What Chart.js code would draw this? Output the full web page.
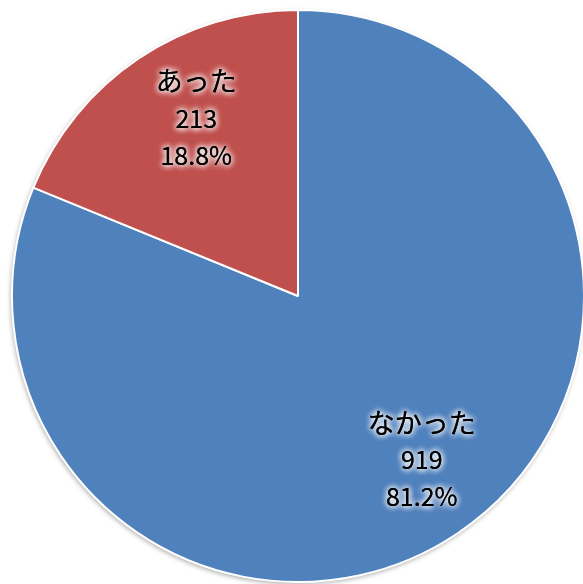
<!DOCTYPE html>
<html>
<head>
<meta charset="utf-8">
<script src="https://cdn.jsdelivr.net/npm/chart.js@4/dist/chart.umd.min.js"></script>
<style>
  html, body { margin: 0; padding: 0; background: #ffffff; overflow: hidden; }
  #wrap { position: relative; width: 600px; height: 584px; }
</style>
</head>
<body>
<div id="wrap"><canvas id="c"></canvas></div>
<script>
const categories = ["なかった", "あった"];
const counts = [919, 213];
const percentLabels = ["81.2%", "18.8%"];
const sliceColors = ["#4F81BD", "#C0504D"];

const labelPlugin = {
  id: 'sliceLabels',
  beforeDatasetsDraw(chart) {
    const arc = chart.getDatasetMeta(0).data[0];
    if (!arc) return;
    const ctx = chart.ctx;
    ctx.save();
    ctx.shadowColor = 'rgba(0,0,0,0.35)';
    ctx.shadowBlur = 5;
    ctx.shadowOffsetX = -1;
    ctx.shadowOffsetY = 2;
    ctx.fillStyle = '#ffffff';
    ctx.beginPath();
    ctx.arc(arc.x, arc.y, arc.outerRadius, 0, Math.PI * 2);
    ctx.fill();
    ctx.restore();
  },
  afterDatasetsDraw(chart) {
    const ctx = chart.ctx;
    const meta = chart.getDatasetMeta(0);
    meta.data.forEach((arc, i) => {
      const mid = (arc.startAngle + arc.endAngle) / 2;
      const r = arc.outerRadius * 0.72;
      const x = arc.x + Math.cos(mid) * r + (i === 0 ? 9 : 13);
      const y = arc.y + Math.sin(mid) * r - 7;
      const lines = [categories[i], String(counts[i]), percentLabels[i]];
      const fonts = [
        '27px "Noto Sans CJK JP", sans-serif',
        '25px "Liberation Sans Narrow", "Noto Sans CJK JP", sans-serif',
        '25px "Liberation Sans Narrow", "Noto Sans CJK JP", sans-serif'
      ];
      const lh = 37;
      ctx.save();
      ctx.textAlign = 'center';
      ctx.textBaseline = 'middle';
      lines.forEach((t, k) => {
        const ty = y + (k - 1) * lh;
        ctx.font = fonts[k];
        ctx.shadowColor = 'rgba(255,255,255,1)';
        ctx.shadowBlur = 6;
        ctx.fillStyle = '#000000';
        for (let p = 0; p < 3; p++) ctx.fillText(t, x, ty);
      });
      ctx.restore();
    });
  }
};

new Chart(document.getElementById('c'), {
  type: 'pie',
  data: {
    labels: categories,
    datasets: [{
      data: counts,
      backgroundColor: sliceColors,
      borderColor: '#ffffff',
      borderWidth: 2,
      hoverOffset: 0
    }]
  },
  options: {
    responsive: true,
    maintainAspectRatio: false,
    animation: false,
    layout: { padding: { left: 11, right: 15, top: 9, bottom: 1 } },
    plugins: {
      legend: { display: false },
      tooltip: { enabled: false }
    }
  },
  plugins: [labelPlugin]
});
</script>
</body>
</html>
